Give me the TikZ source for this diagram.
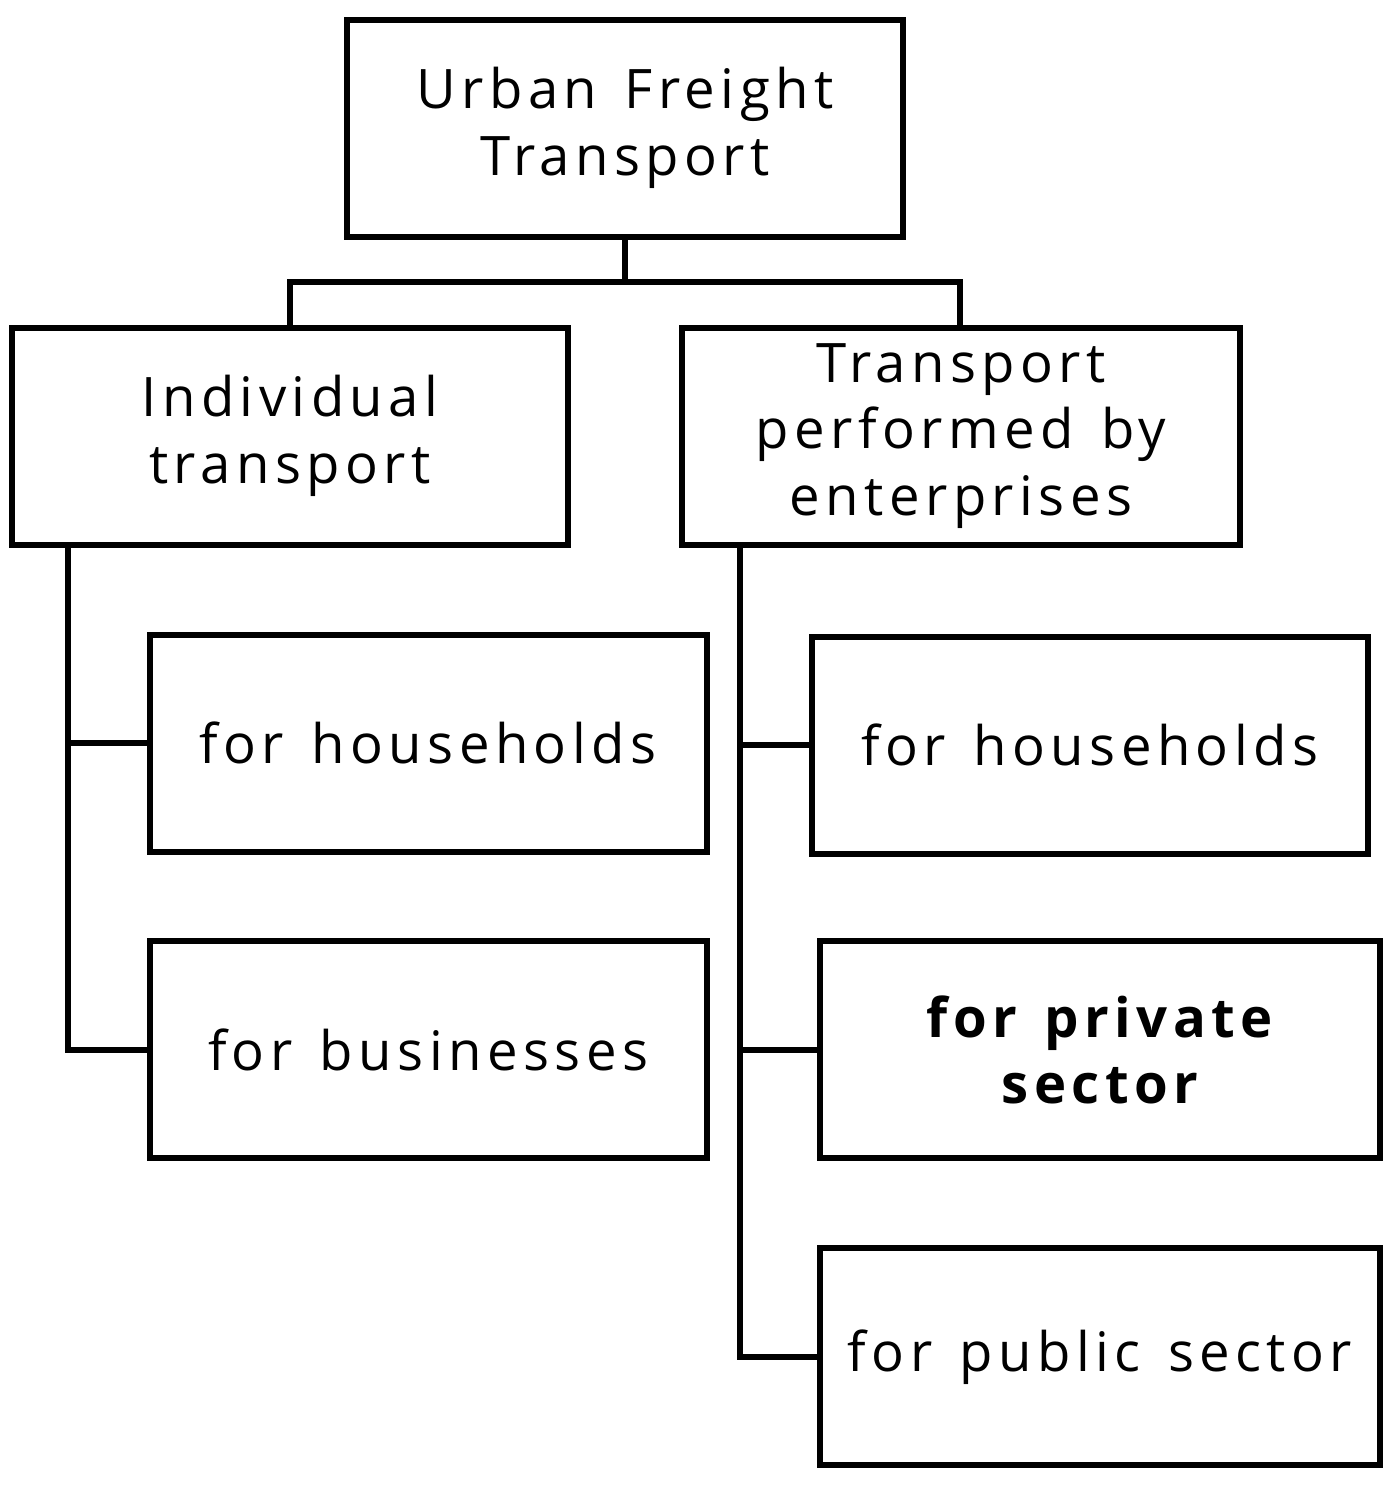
\documentclass[tikz,border=0pt]{standalone}
\usepackage{fontspec}
\setmainfont[LetterSpace=10,WordSpace=1.4]{Open Sans}
\begin{document}
\begin{tikzpicture}[x=0.02cm,y=-0.02cm,line width=3pt,
  txt/.style={align=center,font=\fontsize{31}{38}\selectfont}]
\useasboundingbox (0,0) rectangle (1396,1490);
\draw (347,20) rectangle (903,237); \node[txt] (top) at (625,128) {Urban Freight\\Transport};
\draw (12,328) rectangle (568,545); \node[txt] (ind) at (290,436) {Individual\\transport};
\draw (682,328) rectangle (1240,545); \node[txt] (ent) at (961,436) {Transport\\performed by\\enterprises};
\draw (150,635) rectangle (707,852); \node[txt] (lh) at (428,743) {for households};
\draw (150,941) rectangle (707,1158); \node[txt] (lb) at (428,1050) {for businesses};
\draw (812,637) rectangle (1368,854); \node[txt] (rh) at (1090,745) {for households};
\draw (820,941) rectangle (1380,1158); \node[txt,font=\fontsize{31}{38}\selectfont\bfseries] (rp) at (1100,1050) {for private\\sector};
\draw (820,1248) rectangle (1380,1465); \node[txt] (rs) at (1100,1357) {for public sector};
\coordinate (a) at (625,237); \coordinate (b) at (625,282);
\draw (a) -- (b); \draw (290,328) |- (b) -| (960,328);
\draw (68,545) |- (150,1050); \draw (68,743) -- (150,743);
\draw (740,545) |- (820,1357); \draw (740,745) -- (812,745); \draw (740,1050) -- (820,1050);
\end{tikzpicture}
\end{document}
